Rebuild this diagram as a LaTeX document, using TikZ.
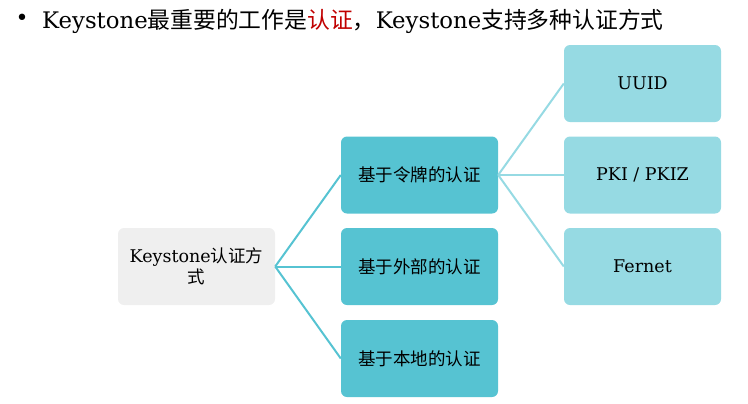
\documentclass[tikz,border=0pt]{standalone}
\usepackage{fontspec}
\setmainfont{DejaVu Serif}
\newfontfamily\cjk{Noto Sans CJK SC}
\newfontfamily\symf{DejaVu Sans}
\definecolor{midteal}{HTML}{56C3D2}
\definecolor{lightteal}{HTML}{96DAE3}
\definecolor{rootgray}{HTML}{EFEFEF}
\definecolor{titlered}{HTML}{C00000}
\tikzset{
  basebox/.style={rounded corners=6bp, minimum width=157bp, minimum height=77bp,
    inner sep=0pt, align=center, text=black, font=\fontsize{17.5bp}{21bp}\selectfont},
  rootbox/.style={basebox, fill=rootgray},
  midbox/.style={basebox, fill=midteal},
  leafbox/.style={basebox, fill=lightteal},
  midlink/.style={draw=midteal, line width=2bp},
  leaflink/.style={draw=lightteal, line width=2bp}
}
\begin{document}
\begin{tikzpicture}[x=1bp,y=-1bp]
\useasboundingbox (0,0) rectangle (748,403);
\node[font=\symf\fontsize{22bp}{22bp}\selectfont, inner sep=0pt] (bul) at (22,20) {•};
\node[anchor=base west, inner sep=0pt, font=\fontsize{22.8bp}{26bp}\selectfont] (title) at (42,28.5)
  {Keystone{\cjk 最重要的工作是}{\cjk\color{titlered}认证}{\cjk ，}Keystone{\cjk 支持多种认证方式}};
\node[rootbox] (root) at (196.5,266.5) {Keystone{\cjk 认证方}\\{\cjk 式}};
\node[midbox] (token) at (419.5,175) {\cjk 基于令牌的认证};
\node[midbox] (ext) at (419.5,266.5) {\cjk 基于外部的认证};
\node[midbox] (local) at (419.5,358.5) {\cjk 基于本地的认证};
\node[leafbox] (uuid) at (642.5,83.5) {UUID};
\node[leafbox] (pki) at (642.5,175) {PKI / PKIZ};
\node[leafbox] (fernet) at (642.5,266.5) {Fernet};
\draw[midlink] (root.east) -- (token.west);
\draw[midlink] (root.east) -- (ext.west);
\draw[midlink] (root.east) -- (local.west);
\draw[leaflink] (token.east) -- (uuid.west);
\draw[leaflink] (token.east) -- (pki.west);
\draw[leaflink] (token.east) -- (fernet.west);
\end{tikzpicture}
\end{document}
